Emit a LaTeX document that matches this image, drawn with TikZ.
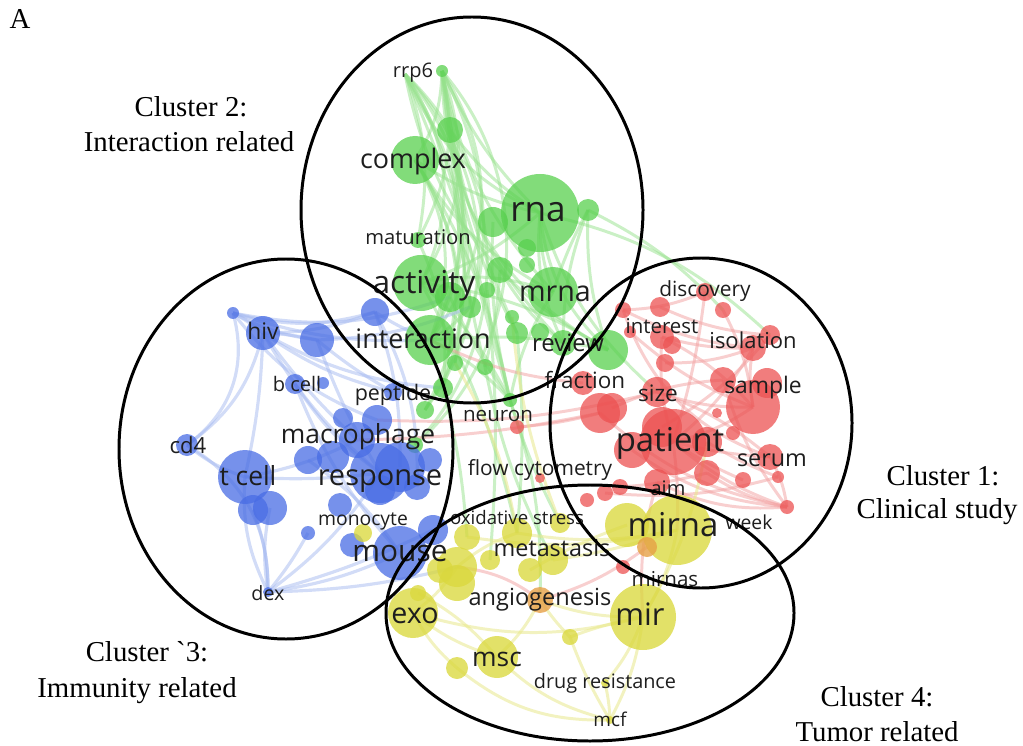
\documentclass[tikz,border=0pt]{standalone}
\usepackage{fontspec}
\newfontfamily\osans{Open Sans}
\newfontfamily\tms{Liberation Serif}
\newcommand\vsz[1]{\osans\fontsize{#1}{#1}\selectfont}
\newcommand\tsz[1]{\tms\fontsize{#1}{#1}\selectfont}
\definecolor{gF}{RGB}{88,208,78}
\definecolor{rF}{RGB}{236,82,82}
\definecolor{bF}{RGB}{72,108,228}
\definecolor{yF}{RGB}{218,216,62}
\definecolor{oF}{RGB}{230,160,70}
\definecolor{gE}{RGB}{150,225,140}
\definecolor{rE}{RGB}{242,160,160}
\definecolor{bE}{RGB}{165,185,240}
\definecolor{yE}{RGB}{232,232,140}
\definecolor{txt}{RGB}{30,30,30}
\tikzset{
  gb/.style={fill=gF,fill opacity=0.75},
  rb/.style={fill=rF,fill opacity=0.75},
  bb/.style={fill=bF,fill opacity=0.75},
  yb/.style={fill=yF,fill opacity=0.78},
  ob/.style={fill=oF,fill opacity=0.8},
  ge/.style={draw=gE,line width=1.7pt,opacity=0.5},
  re/.style={draw=rE,line width=1.7pt,opacity=0.5},
  be/.style={draw=bE,line width=1.8pt,opacity=0.5},
  ye/.style={draw=yE,line width=1.7pt,opacity=0.55},
  lbl/.style={inner sep=0pt,text height=0.93em,text depth=0pt,text=txt},
  clab/.style={inner sep=0pt,anchor=base,text=black,font=\tsz{16.4}},
  ring/.style={draw=black,line width=1.7pt}
}
\begin{document}
\begin{tikzpicture}[x=0.02cm,y=-0.02cm]
\useasboundingbox (0,0) rectangle (1023,746);
% ---------- bubble coordinates (drawn after edges) ----------
\path
 (442,71) coordinate (g1) (450,130) coordinate (g2) (415,160) coordinate (g3)
 (540,213) coordinate (g4) (493,222) coordinate (g5) (588,210) coordinate (g6)
 (527,248) coordinate (g7) (527,265) coordinate (g8) (418,240) coordinate (g9)
 (421,283) coordinate (g10) (450,297) coordinate (g11) (470,307) coordinate (g12)
 (500,270) coordinate (g13) (487,290) coordinate (g14) (553,292) coordinate (g15)
 (512,317) coordinate (g16) (517,333) coordinate (g17) (540,332) coordinate (g18)
 (430,340) coordinate (g19) (563,343) coordinate (g20) (608,350) coordinate (g21)
 (455,363) coordinate (g22) (485,367) coordinate (g23) (443,388) coordinate (g24)
 (425,410) coordinate (g25) (510,400) coordinate (g26) (415,445) coordinate (g27)
 (405,74) coordinate (g28)
 (705,292) coordinate (r1) (623,310) coordinate (r2) (660,307) coordinate (r3)
 (723,310) coordinate (r4) (662,337) coordinate (r5) (672,345) coordinate (r6)
 (630,332) coordinate (r7) (753,348) coordinate (r8) (770,335) coordinate (r9)
 (665,363) coordinate (r10) (753,407) coordinate (r11) (723,380) coordinate (r12)
 (767,383) coordinate (r13) (657,392) coordinate (r14) (583,383) coordinate (r15)
 (600,413) coordinate (r16) (612,408) coordinate (r17) (717,413) coordinate (r18)
 (673,442) coordinate (r19) (632,450) coordinate (r20) (662,427) coordinate (r21)
 (707,442) coordinate (r22) (707,473) coordinate (r23) (733,433) coordinate (r24)
 (770,457) coordinate (r25) (778,477) coordinate (r26) (743,480) coordinate (r27)
 (657,482) coordinate (r28) (605,493) coordinate (r29) (587,500) coordinate (r30)
 (787,507) coordinate (r31) (517,427) coordinate (r32) (620,487) coordinate (r33)
 (623,567) coordinate (r35) (540,478) coordinate (r36)
 (233,313) coordinate (b1) (263,333) coordinate (b2) (317,340) coordinate (b3)
 (375,312) coordinate (b4) (295,384) coordinate (b5) (323,383) coordinate (b6)
 (393,392) coordinate (b7) (343,418) coordinate (b8) (377,420) coordinate (b9)
 (357,440) coordinate (b10) (187,445) coordinate (b11) (308,460) coordinate (b12)
 (333,457) coordinate (b13) (380,473) coordinate (b14) (400,467) coordinate (b15)
 (430,460) coordinate (b16) (417,487) coordinate (b17) (380,490) coordinate (b18)
 (340,505) coordinate (b19) (245,477) coordinate (b20) (253,510) coordinate (b21)
 (270,508) coordinate (b22) (308,533) coordinate (b23) (400,553) coordinate (b24)
 (433,530) coordinate (b25) (352,545) coordinate (b26) (268,592) coordinate (b27)
 (677,530) coordinate (y1) (627,525) coordinate (y2) (553,560) coordinate (y3)
 (560,523) coordinate (y4) (517,533) coordinate (y5) (530,570) coordinate (y6)
 (490,560) coordinate (y7) (467,537) coordinate (y8) (457,567) coordinate (y9)
 (457,583) coordinate (y10) (440,570) coordinate (y11) (540,600) coordinate (y12)
 (413,613) coordinate (y13) (418,593) coordinate (y14) (643,617) coordinate (y15)
 (570,637) coordinate (y16) (497,657) coordinate (y17) (457,668) coordinate (y18)
 (610,720) coordinate (y19) (605,683) coordinate (y20) (363,533) coordinate (y21)
 (647,547) coordinate (y22);
% ---------- edges ----------
\foreach \a/\b/\c in {g1/g10/25,g1/g19/35,g1/g9/20,g1/g4/-10,g1/g15/-15,g1/g20/-20,
  g1/g26/-5,g1/g24/10,g1/g3/15,g1/g12/5,g1/g17/-8,g1/g25/30,g2/g19/20,g2/g17/-10,
  g2/g4/-10,g3/g19/25,g3/g4/-10,g3/g15/-15,g3/g25/30,g3/g26/10,g4/g20/-15,g4/g21/-20,
  g4/g15/-10,g6/g21/-10,g6/g15/-5,g6/g20/-10,g10/g15/15,g10/g26/10,g19/g26/10,
  g4/g10/10,g13/g23/5,g15/g26/-10,g19/g12/-10,g10/y5/8,g26/y4/-5,g24/y8/5,g17/y5/5,
  g23/y3/-8,g4/r14/-15,g26/y12/10,g9/g24/15,g3/g22/20,g2/g23/-5,g10/g21/12,g19/g21/8,
  g5/g26/-8,g13/g20/-10,g14/y7/5,g11/g26/-5,
  g28/g19/35,g28/g10/30,g28/g25/40,g28/g27/45,g28/g24/25,g28/g9/15,g28/g22/20,
  g1/g27/45,g28/g4/-20,g28/g21/-25,g28/g26/5,g1/g21/-30}
  \draw[ge] (\a) to[bend left=\c] (\b);
\draw[ge] (g6) to[bend left=10] (r4);
\draw[ge] (g4) to[bend left=15] (r9);
\foreach \a/\b/\c in {b1/b2/5,b1/b4/-15,b1/b3/-10,b1/b9/-15,b2/b3/5,b2/b4/-10,
  b2/b20/5,b2/b14/-10,b2/b10/-5,b11/b1/-35,b11/b20/-10,b11/b2/-20,b20/b27/-15,
  b21/b27/10,b22/b27/-10,b27/b24/-8,b27/b14/-10,b27/b25/-5,b20/b14/-5,b3/b14/-5,
  b5/b14/-10,b4/b15/10,b3/b7/-5,b12/b24/10,b4/g19/-5,b3/g12/-10,b1/g19/-10,
  b27/y9/-6,b2/b7/-10,b20/b10/-8,b5/b24/-10,b4/b17/15,b11/b27/30,b23/b27/5,
  b2/g24/-12,b1/g11/-15}
  \draw[be] (\a) to[bend left=\c] (\b);
\foreach \a/\b/\c in {r19/r11/-10,r19/r8/-10,r19/r5/10,r19/r1/-5,r11/r8/10,r11/r5/-10,
  r1/r2/10,r2/r8/-10,r3/r9/-10,r5/r8/-8,r14/r11/-10,r19/r25/-5,r19/r31/-10,r25/r31/10,
  r23/r31/-10,r28/r31/-15,r22/r26/-5,r19/r27/-5,r21/r9/-10,r15/g19/10,r16/b10/5,
  r32/r16/-5,r19/y1/5,r28/y15/-10,y22/y12/10,r14/r25/10,r12/r31/-10,r7/r11/-10,
  r2/r25/-25,r20/r31/-15,r16/r31/-15,r4/r11/10,r29/r26/-10,r33/r23/-5,r10/r8/-10,
  r17/r12/10,r14/b9/8,y12/y9/-15}
  \draw[re] (\a) to[bend left=\c] (\b);
\foreach \a/\b/\c in {y1/y15/10,y1/y5/10,y15/y16/-5,y15/y19/10,y16/y19/-5,y17/y19/-15,
  y13/y17/-10,y13/y18/-10,y18/y19/-20,y20/y19/5,y12/y15/-10,y3/y1/-5,y5/y9/-10,
  y9/y13/10,y13/y15/-15,y17/y12/-10,y8/y1/-10,y5/g22/-10,y4/g16/8,y15/r22/-10,
  y16/y12/5,y20/y15/-10,y14/y17/10,y2/y6/-5}
  \draw[ye] (\a) to[bend left=\c] (\b);
% ---------- bubbles ----------
\foreach \n/\r in {g1/6,g2/13,g3/24,g5/15,g6/11,g4/39,g7/9,g8/8,g9/8,g10/28,g11/15,
  g12/11,g13/13,g14/8,g15/25,g16/7,g17/11,g18/9,g19/25,g20/13,g21/20,g22/8,g23/8,
  g24/10,g25/9,g26/7,g27/8}
  \fill[gb] (\n) circle (\r);
\foreach \n/\r in {r1/9,r2/8,r3/10,r4/8,r5/12,r6/9,r7/6,r8/13,r9/10,r10/9,r11/27,
  r12/13,r13/15,r14/15,r15/12,r16/20,r17/15,r18/5,r20/18,r21/20,r19/33,r22/15,r23/13,
  r24/7,r25/13,r26/6,r27/8,r28/13,r29/8,r30/7,r31/7,r32/7,r33/8,r35/7,r36/5}
  \fill[rb] (\n) circle (\r);
\foreach \n/\r in {b1/6,b2/17,b3/17,b4/14,b5/10,b6/6,b7/9,b8/10,b9/15,b10/18,b11/11,
  b12/14,b13/16,b15/25,b14/30,b16/12,b17/13,b18/15,b19/12,b20/27,b21/15,b22/17,b23/7,
  b24/27,b25/15,b26/12,b27/5}
  \fill[bb] (\n) circle (\r);
\foreach \n/\r in {y2/22,y1/35,y3/15,y4/10,y5/15,y6/12,y7/10,y8/13,y9/20,y10/18,
  y11/13,y13/25,y14/8,y15/33,y16/8,y17/21,y18/11,y19/4,y20/4,y21/9}
  \fill[yb] (\n) circle (\r);
\fill[ob] (y12) circle (13);
\fill[ob] (y22) circle (10);
% ---------- labels ----------
\node[lbl,font=\vsz{11.4}] (l1) at (413,69) {rrp6};
\node[lbl,font=\vsz{15.3}] (l2) at (413,160) {complex};
\node[lbl,font=\vsz{20}] (l3) at (538,213) {rna};
\node[lbl,font=\vsz{11.5}] (l4) at (418,236) {maturation};
\node[lbl,font=\vsz{18}] (l5) at (424,285) {activity};
\node[lbl,font=\vsz{16.3}] (l6) at (555,293) {mrna};
\node[lbl,font=\vsz{15.3}] (l7) at (423,340) {interaction};
\node[lbl,font=\vsz{13.6}] (l8) at (568,343) {review};
\node[lbl,font=\vsz{12.8}] (l9) at (585,380) {fraction};
\node[lbl,font=\vsz{12.2}] (l10) at (393,392) {peptide};
\node[lbl,font=\vsz{11.7}] (l11) at (498,413) {neuron};
\node[lbl,font=\vsz{13}] (l12) at (263,331) {hiv};
\node[lbl,font=\vsz{11.4}] (l13) at (297,383) {b cell};
\node[lbl,font=\vsz{12.6}] (l14) at (188,445) {cd4};
\node[lbl,font=\vsz{15}] (l15) at (358,435) {macrophage};
\node[lbl,font=\vsz{15}] (l16) at (248,477) {t cell};
\node[lbl,font=\vsz{16.5}] (l17) at (380,477) {response};
\node[lbl,font=\vsz{11}] (l18) at (363,517) {monocyte};
\node[lbl,font=\vsz{17}] (l19) at (400,553) {mouse};
\node[lbl,font=\vsz{11.2}] (l20) at (268,592) {dex};
\node[lbl,font=\vsz{11.9}] (l21) at (540,467) {flow cytometry};
\node[lbl,font=\vsz{11.9}] (l22) at (705,288) {discovery};
\node[lbl,font=\vsz{11.6}] (l23) at (662,325) {interest};
\node[lbl,font=\vsz{12.5}] (l24) at (753,340) {isolation};
\node[lbl,font=\vsz{13}] (l25) at (763,385) {sample};
\node[lbl,font=\vsz{12.9}] (l26) at (658,393) {size};
\node[lbl,font=\vsz{18.7}] (l27) at (670,443) {patient};
\node[lbl,font=\vsz{13.3}] (l28) at (772,458) {serum};
\node[lbl,font=\vsz{11.4}] (l29) at (668,487) {aim};
\node[lbl,font=\vsz{11}] (l30) at (749,521) {week};
\node[lbl,font=\vsz{18.7}] (l31) at (673,528) {mirna};
\node[lbl,font=\vsz{10.6}] (l32) at (517,516) {oxidative stress};
\node[lbl,font=\vsz{13.3}] (l33) at (552,548) {metastasis};
\node[lbl,font=\vsz{11.7}] (l34) at (665,578) {mirnas};
\node[lbl,font=\vsz{13.4}] (l35) at (540,597) {angiogenesis};
\node[lbl,font=\vsz{16.3}] (l36) at (415,615) {exo};
\node[lbl,font=\vsz{17.6}] (l37) at (640,617) {mir};
\node[lbl,font=\vsz{15}] (l38) at (497,658) {msc};
\node[lbl,font=\vsz{11.3}] (l39) at (605,680) {drug resistance};
\node[lbl,font=\vsz{10.8}] (l40) at (610,718) {mcf};
% ---------- cluster outlines ----------
\draw[ring] (472,210) ellipse [x radius=171, y radius=193];
\draw[ring] (286,449) ellipse [x radius=167, y radius=190];
\draw[ring] (701,423) ellipse [x radius=151, y radius=165];
\draw[ring] (590,613) ellipse [x radius=204, y radius=128];
% ---------- cluster captions ----------
\node[clab] (tA) at (20,29) {A};
\node[clab] (c2a) at (191,117) {Cluster 2:};
\node[clab] (c2b) at (189,152) {Interaction related};
\node[clab] (c1a) at (943,485) {Cluster 1:};
\node[clab] (c1b) at (937,518) {Clinical study};
\node[clab] (c3a) at (147,661) {Cluster `3:};
\node[clab] (c3b) at (137,697) {Immunity related};
\node[clab] (c4a) at (877,706) {Cluster 4:};
\node[clab] (c4b) at (877,741) {Tumor related};
\end{tikzpicture}
\end{document}
